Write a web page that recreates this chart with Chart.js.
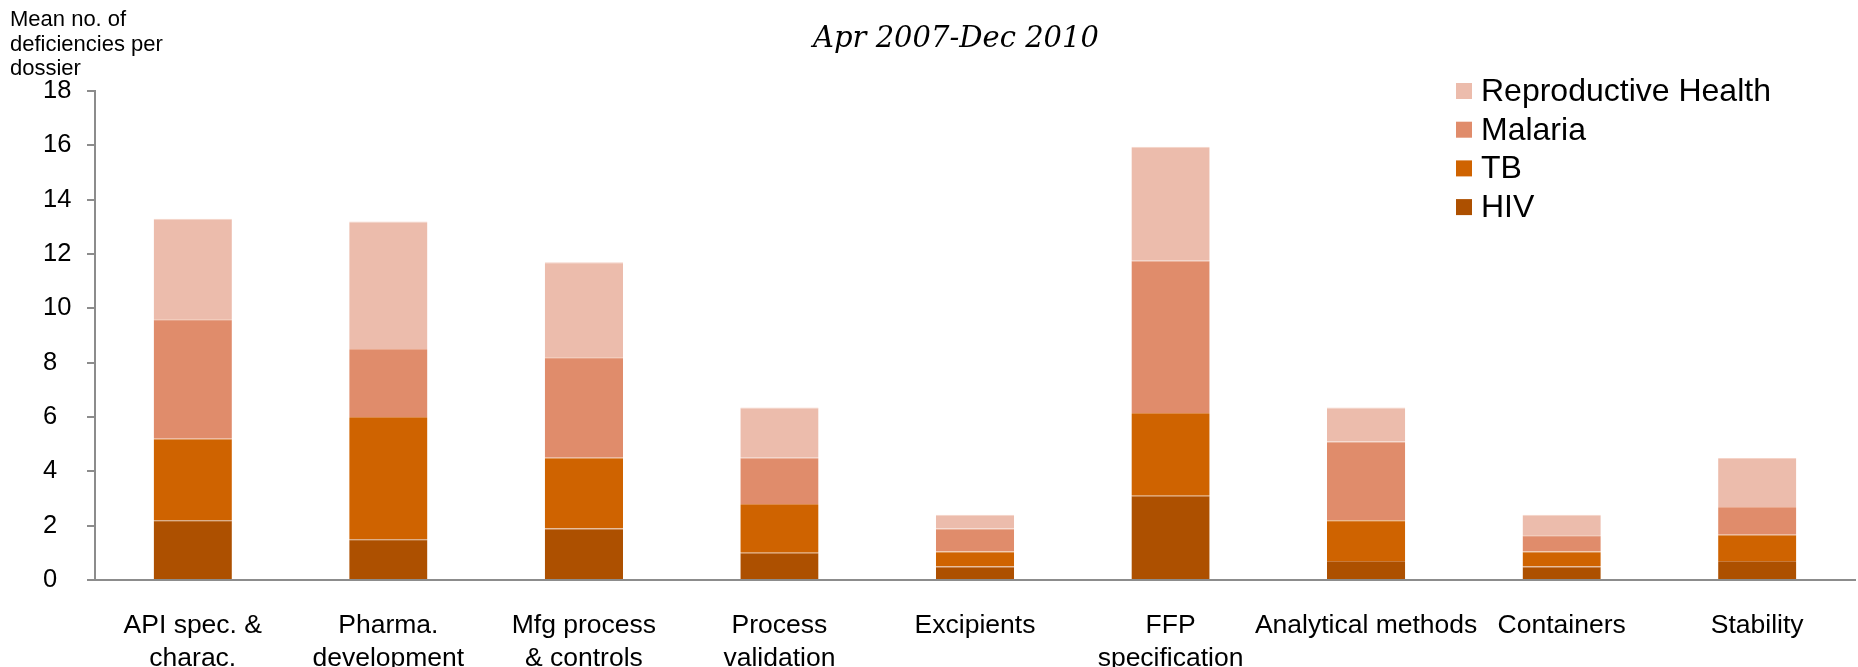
<!DOCTYPE html>
<html>
<head>
<meta charset="utf-8">
<title>Mean no. of deficiencies per dossier</title>
<script src="https://cdn.jsdelivr.net/npm/chart.js@4.4.1/dist/chart.umd.min.js"></script>
<style>
  html, body { margin: 0; padding: 0; background: #fff; }
  #wrap { width: 1858px; height: 667px; position: relative; }
</style>
</head>
<body>
<div id="wrap"><canvas id="deficiencyChart"></canvas></div>
<script>
// Data
const categories = [
  ["API spec. &", "charac."],
  ["Pharma.", "development"],
  ["Mfg process", "& controls"],
  ["Process", "validation"],
  "Excipients",
  ["FFP", "specification"],
  "Analytical methods",
  "Containers",
  "Stability"
];
const hiv          = [2.2, 1.5, 1.9, 1.0, 0.5, 3.1, 0.7, 0.5, 0.7];
const tb           = [3.0, 4.5, 2.6, 1.8, 0.55, 3.05, 1.5, 0.55, 0.97];
const malaria      = [4.4, 2.5, 3.7, 1.7, 0.85, 5.6, 2.9, 0.6, 1.02];
const reproductive = [3.7, 4.7, 3.5, 1.85, 0.5, 4.2, 1.25, 0.75, 1.8];
const yTicks = [0, 2, 4, 6, 8, 10, 12, 14, 16, 18];

const chartTitle = "Apr 2007-Dec 2010";
const yTitle = ["Mean no. of", "deficiencies per", "dossier"];

const SANS = "'Liberation Sans', Arial, sans-serif";
const AXIS_GREY = "#8c8c8c";

// Title, y-axis caption and legend, drawn on top of the chart
const annotations = {
  id: "annotations",
  afterDraw(chart) {
    const ctx = chart.ctx;
    ctx.save();

    ctx.fillStyle = "#000";
    ctx.font = "italic 29px 'DejaVu Serif', serif";
    ctx.textAlign = "center";
    ctx.textBaseline = "middle";
    ctx.fillText(chartTitle, 956, 39);

    ctx.font = "22px " + SANS;
    ctx.textAlign = "left";
    yTitle.forEach((line, i) => ctx.fillText(line, 10, 20 + i * 24.5));

    // legend, top entry is the last (top) stack segment
    const items = chart.data.datasets.slice().reverse();
    ctx.font = "32px " + SANS;
    items.forEach((ds, i) => {
      const cy = 91 + i * 38.7;
      ctx.fillStyle = ds.backgroundColor;
      ctx.fillRect(1456, cy - 8, 16, 16);
      ctx.fillStyle = "#000";
      ctx.fillText(ds.label, 1481, cy + 1);
    });

    ctx.restore();
  }
};

const ctx = document.getElementById("deficiencyChart").getContext("2d");
new Chart(ctx, {
  type: "bar",
  data: {
    labels: categories,
    datasets: [
      { label: "HIV", data: hiv, backgroundColor: "#ad5000", borderColor: "#c77a3c" },
      { label: "TB", data: tb, backgroundColor: "#cf6300", borderColor: "#dd8a45" },
      { label: "Malaria", data: malaria, backgroundColor: "#e08c6b", borderColor: "#eaa98e" },
      { label: "Reproductive Health", data: reproductive, backgroundColor: "#ecbcac", borderColor: "#f5d3c8" }
    ]
  },
  options: {
    responsive: true,
    maintainAspectRatio: false,
    animation: false,
    layout: { padding: { left: 43, top: 91, right: 3, bottom: 0 } },
    datasets: {
      bar: {
        barPercentage: 0.4,
        categoryPercentage: 1.0,
        borderWidth: { top: 1, left: 0, right: 0, bottom: 0 },
        borderSkipped: "start"
      }
    },
    plugins: {
      legend: { display: false },
      title: { display: false },
      tooltip: { enabled: false }
    },
    scales: {
      x: {
        stacked: true,
        grid: { display: true, drawOnChartArea: false, drawTicks: false },
        border: { display: true, color: AXIS_GREY, width: 2 },
        ticks: {
          color: "#000",
          font: { family: SANS, size: 26.5, lineHeight: 1.25 },
          padding: 29,
          maxRotation: 0,
          minRotation: 0,
          autoSkip: false
        },
        afterFit: s => { s.height = 87; }
      },
      y: {
        stacked: true,
        min: 0,
        max: 18,
        grid: { drawOnChartArea: false, drawTicks: true, tickLength: 8, color: AXIS_GREY, lineWidth: 2 },
        border: { display: true, color: AXIS_GREY, width: 2 },
        ticks: {
          color: "#000",
          font: { family: SANS, size: 25.5 },
          padding: 13,
          crossAlign: "far"
        },
        afterBuildTicks: s => { s.ticks = yTicks.map(v => ({ value: v })); },
        afterFit: s => { s.width = 52; }
      }
    }
  },
  plugins: [annotations]
});
</script>
</body>
</html>
